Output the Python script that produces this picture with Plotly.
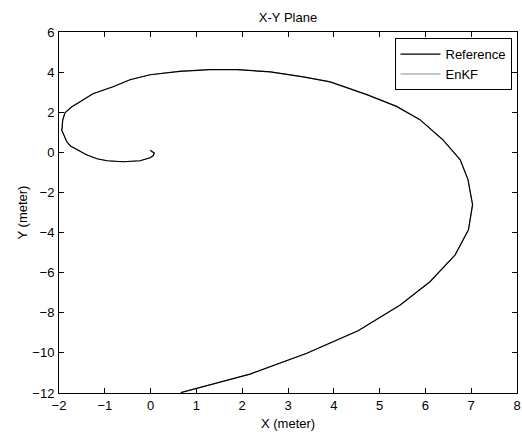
import plotly.graph_objects as go

ref_x = [-0.01, 0.08, 0.06, -0.01, -0.23, -0.60, -0.95, -1.17, -1.40, -1.61, -1.75, -1.83, -1.90,
         -1.94, -1.93, -1.92, -1.87, -1.72, -1.54, -1.26, -0.82, -0.45, -0.01, 0.64, 1.30,
         1.89, 2.61, 3.33, 3.92, 4.72, 5.37, 5.88, 6.38, 6.76, 6.93, 7.01, 7.03, 6.94, 6.65,
         6.10, 5.45, 4.53, 3.41, 2.17, 1.01, 0.66]
ref_y = [0.10, -0.03, -0.16, -0.27, -0.42, -0.47, -0.42, -0.32, -0.12, 0.13, 0.32, 0.53, 0.85,
         1.10, 1.27, 1.60, 1.97, 2.27, 2.52, 2.92, 3.27, 3.62, 3.87, 4.04, 4.12,
         4.12, 4.01, 3.76, 3.51, 2.88, 2.29, 1.63, 0.63, -0.37, -1.36, -2.36, -2.61, -3.86, -5.11,
         -6.45, -7.61, -8.90, -10.02, -11.06, -11.76, -11.98]

enkf_x = [-0.01, 0.08, 0.06, -0.01, -0.23, -0.60, -0.95, -1.17, -1.40, -1.61, -1.75, -1.83, -1.90,
          -1.94, -1.93, -1.92, -1.87, -1.72, -1.54, -1.26, -0.82, -0.45, -0.01, 0.64, 1.30,
          1.89, 2.61, 3.33, 3.92, 4.72, 5.37, 5.88, 6.38, 6.76, 6.93, 7.01, 7.03, 6.94, 6.65,
          6.10, 5.45, 4.53, 3.41, 2.17, 1.01, 0.66]
enkf_y = [0.10, -0.03, -0.16, -0.27, -0.42, -0.47, -0.42, -0.32, -0.12, 0.13, 0.32, 0.53, 0.85,
          1.10, 1.27, 1.60, 1.97, 2.27, 2.52, 2.92, 3.27, 3.62, 3.87, 4.05, 4.13,
          4.13, 4.02, 3.77, 3.52, 2.88, 2.29, 1.63, 0.63, -0.37, -1.36, -2.36, -2.61, -3.86, -5.11,
          -6.45, -7.61, -8.90, -10.02, -11.06, -11.76, -11.98]

x_ticks = [-2, -1, 0, 1, 2, 3, 4, 5, 6, 7, 8]
y_ticks = [6, 4, 2, 0, -2, -4, -6, -8, -10, -12]

FONT = "Liberation Sans, Arial, sans-serif"
FS = 13

fig = go.Figure()
fig.add_trace(go.Scatter(x=enkf_x, y=enkf_y, mode="lines", name="EnKF",
                         line=dict(color="#8c8c8c", width=1), legendrank=2))
fig.add_trace(go.Scatter(x=ref_x, y=ref_y, mode="lines", name="Reference",
                         line=dict(color="#000000", width=1.2), legendrank=1))

axis_common = dict(showline=True, linecolor="black", linewidth=1, mirror="allticks",
                   ticks="inside", ticklen=5, tickcolor="black", showgrid=False,
                   zeroline=False, automargin=False,
                   tickfont=dict(family=FONT, size=FS, color="black"))

fig.update_layout(
    width=522, height=432,
    margin=dict(l=59, r=5, t=32, b=39, autoexpand=False),
    paper_bgcolor="white", plot_bgcolor="white",
    title=dict(text="X-Y Plane", x=0.5517, xanchor="center", y=1 - 17 / 432, yanchor="middle",
               font=dict(family=FONT, size=FS, color="black")),
    xaxis=dict(range=[-2, 8], tickvals=x_ticks, ticklabelstandoff=0, **axis_common),
    yaxis=dict(range=[-12, 6], tickvals=y_ticks, ticklabelstandoff=1, **axis_common),
    legend=dict(x=0.988, xanchor="right", y=0.983, yanchor="top",
                bordercolor="black", borderwidth=1, bgcolor="white",
                font=dict(family=FONT, size=FS, color="black"),
                tracegroupgap=0, itemwidth=40),
    showlegend=True,
    annotations=[
        dict(text="X (meter)", xref="paper", yref="paper", x=0.5, y=-(423 - 393) / 361,
             xanchor="center", yanchor="middle", showarrow=False,
             font=dict(family=FONT, size=FS, color="black")),
        dict(text="Y (meter)", xref="paper", yref="paper", x=-(59 - 22) / 458, y=0.5,
             xanchor="center", yanchor="middle", showarrow=False, textangle=-90,
             font=dict(family=FONT, size=FS, color="black")),
    ],
)

fig.write_html("out.html", config={"displayModeBar": False},
               post_script="document.body.style.margin='0px';document.body.style.padding='0px';")
